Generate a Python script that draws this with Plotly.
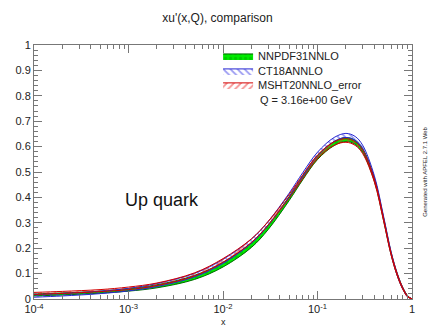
import plotly.graph_objects as go

# ---- data ----
x_vals = [1e-4, 2e-4, 5e-4, 1e-3, 2e-3, 5e-3, 1e-2, 2e-2, 3e-2, 5e-2, 7e-2,
          0.1, 0.15, 0.2, 0.25, 0.3, 0.4, 0.5, 0.6, 0.7, 0.8, 0.9, 1.0]

nnpdf_central = [0.016, 0.020, 0.027, 0.036, 0.050, 0.085, 0.135, 0.212, 0.282, 0.395, 0.478,
                 0.557, 0.612, 0.628, 0.617, 0.585, 0.470, 0.315, 0.180, 0.095, 0.042, 0.011, 0.0]
nnpdf_error = [0.004, 0.004, 0.004, 0.005, 0.006, 0.008, 0.009, 0.009, 0.009, 0.008, 0.008,
               0.008, 0.008, 0.008, 0.008, 0.008, 0.007, 0.006, 0.005, 0.004, 0.003, 0.002, 0.0]

ct18_central = [0.012, 0.017, 0.026, 0.037, 0.055, 0.094, 0.148, 0.228, 0.297, 0.408, 0.490,
                0.570, 0.628, 0.644, 0.632, 0.598, 0.478, 0.320, 0.182, 0.095, 0.041, 0.010, 0.0]
ct18_error = [0.005, 0.005, 0.005, 0.005, 0.006, 0.007, 0.008, 0.008, 0.008, 0.008, 0.008,
              0.008, 0.008, 0.008, 0.008, 0.008, 0.007, 0.006, 0.005, 0.004, 0.003, 0.002, 0.0]

msht_central = [0.022, 0.026, 0.033, 0.042, 0.058, 0.097, 0.152, 0.230, 0.298, 0.404, 0.482,
                0.560, 0.612, 0.624, 0.612, 0.580, 0.466, 0.313, 0.178, 0.094, 0.041, 0.010, 0.0]
msht_error = [0.004, 0.004, 0.004, 0.005, 0.005, 0.006, 0.007, 0.007, 0.007, 0.007, 0.007,
              0.007, 0.007, 0.007, 0.007, 0.007, 0.006, 0.005, 0.004, 0.004, 0.003, 0.002, 0.0]

set_names = ["NNPDF31NNLO", "CT18ANNLO", "MSHT20NNLO_error"]
x_tick_vals = [1e-4, 1e-3, 1e-2, 1e-1, 1]
x_tick_text = ["10<sup>-4</sup>", "10<sup>-3</sup>", "10<sup>-2</sup>", "10<sup>-1</sup>", "1"]
y_tick_vals = [0, 0.1, 0.2, 0.3, 0.4, 0.5, 0.6, 0.7, 0.8, 0.9, 1]
y_tick_text = ["0", "0.1", "0.2", "0.3", "0.4", "0.5", "0.6", "0.7", "0.8", "0.9", "1"]

sets = [
    (set_names[0], nnpdf_central, nnpdf_error, "rgb(0,235,0)", "rgb(0,110,0)", "rgb(0,170,0)", ".", "legend"),
    (set_names[1], ct18_central, ct18_error, "rgba(255,255,255,0)", "rgb(40,40,210)", "rgb(60,60,230)", "\\", "legend2"),
    (set_names[2], msht_central, msht_error, "rgba(255,255,255,0)", "rgb(210,0,0)", "rgb(235,40,40)", "/", "legend3"),
]

fig = go.Figure()
for name, cen, err, bg, edge, fg, shape, leg in sets:
    lower = [c - e for c, e in zip(cen, err)]
    upper = [c + e for c, e in zip(cen, err)]
    fig.add_trace(go.Scatter(x=x_vals, y=lower, mode="lines", line=dict(color=edge, width=1, shape="spline"),
                             showlegend=False, hoverinfo="skip", legend=leg))
    fig.add_trace(go.Scatter(x=x_vals, y=upper, mode="lines", line=dict(color=edge, width=1, shape="spline"),
                             fill="tonexty", fillcolor=bg,
                             fillpattern=dict(shape=shape, fgcolor=fg, bgcolor=bg, size=5, solidity=0.35),
                             name=name, legend=leg))

axis_font = dict(family="Liberation Sans, Arial, sans-serif", size=11, color="#222")
leg_common = dict(x=0.487, xanchor="left", yanchor="middle", bgcolor="rgba(0,0,0,0)",
                  font=dict(size=11, color="#222"), itemwidth=30)

fig.update_layout(
    width=435, height=329,
    margin=dict(l=34, r=23, t=45, b=30),
    paper_bgcolor="white", plot_bgcolor="white",
    font=dict(family="Liberation Sans, Arial, sans-serif", color="#222"),
    title=dict(text="xu'(x,Q), comparison", x=0.5, xanchor="center", y=1 - 18 / 329, yanchor="middle",
               font=dict(size=12, color="#222")),
    legend=dict(y=0.957, **leg_common),
    legend2=dict(y=0.898, **leg_common),
    legend3=dict(y=0.843, **leg_common),
    showlegend=True,
)

fig.update_xaxes(type="log", range=[-4, 0], tickvals=x_tick_vals, ticktext=x_tick_text,
                 ticks="inside", ticklen=8, tickcolor="#777", showline=True, linecolor="#777", linewidth=1,
                 mirror="allticks", showgrid=False, zeroline=False, tickfont=axis_font,
                 minor=dict(ticks="inside", ticklen=4, tickcolor="#777",
                            tickvals=[m * 10 ** e for e in range(-4, 0) for m in range(2, 10)]))
fig.update_yaxes(range=[0, 1], tickvals=y_tick_vals, ticktext=y_tick_text,
                 ticks="inside", ticklen=8, tickcolor="#777", showline=True, linecolor="#777", linewidth=1,
                 mirror="allticks", showgrid=False, zeroline=False, tickfont=axis_font,
                 minor=dict(ticks="inside", ticklen=4, tickcolor="#777", dtick=0.02))

fig.add_annotation(text="Q = 3.16e+00 GeV", xref="paper", yref="paper", x=0.593, y=0.783,
                   xanchor="left", yanchor="middle", showarrow=False, font=dict(size=11, color="#222"))
fig.add_annotation(text="Up quark", xref="paper", yref="paper", x=0.339, y=0.39,
                   xanchor="center", yanchor="middle", showarrow=False,
                   font=dict(size=18, color="#111", family="Liberation Sans, Arial, sans-serif"))
fig.add_annotation(text="x", xref="paper", yref="paper", x=0.5, y=-0.09,
                   xanchor="center", yanchor="middle", showarrow=False, font=dict(size=9, color="#222"))
fig.add_annotation(text="Generated with APFEL 2.7.1 Web", xref="paper", yref="paper", x=1.034, y=0.5,
                   xanchor="center", yanchor="middle", textangle=-90, showarrow=False,
                   font=dict(size=6, color="#222"))

fig.write_html("out.html")
